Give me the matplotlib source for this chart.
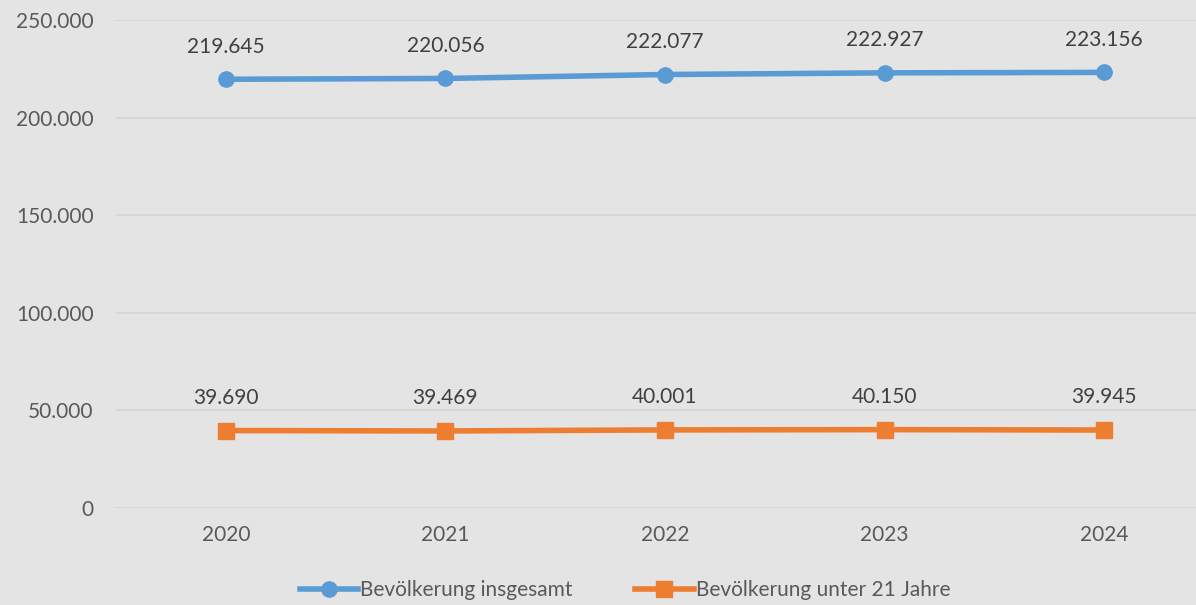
import matplotlib.pyplot as plt
from matplotlib.ticker import FuncFormatter

plt.rcParams['font.family'] = ['Lato', 'DejaVu Sans']

# Data
years = ["2020", "2021", "2022", "2023", "2024"]
total = [219645, 220056, 222077, 222927, 223156]
under21 = [39690, 39469, 40001, 40150, 39945]

bg = "#e4e4e4"
blue = "#5b9bd5"
orange = "#ed7d31"
fs = 15

fig = plt.figure(figsize=(11.96, 6.05), dpi=100, facecolor=bg)
ax = fig.add_axes([116 / 1196, 1 - 508 / 605, 1098 / 1196, 488 / 605])
ax.set_facecolor(bg)

x = list(range(len(years)))
ax.plot(x, total, color=blue, lw=4, marker="o", ms=11, label="Bevölkerung insgesamt", zorder=3)
ax.plot(x, under21, color=orange, lw=4, marker="s", ms=11, label="Bevölkerung unter 21 Jahre", zorder=3)

def fmt(v):
    return f"{v:,.0f}".replace(",", ".")

for series in (total, under21):
    for xi, v in zip(x, series):
        ax.annotate(fmt(v), (xi, v), xytext=(0, 23.5), textcoords="offset points",
                    ha="center", va="center", fontsize=fs, color="#404040")

ax.set_xlim(-0.5, 4.5)
ax.set_ylim(0, 250000)
ax.set_yticks(range(0, 250001, 50000))
ax.yaxis.set_major_formatter(FuncFormatter(lambda v, p: fmt(v)))
ax.set_xticks(x)
ax.set_xticklabels(years)
ax.tick_params(axis="both", length=0, labelsize=fs, labelcolor="#595959")
ax.tick_params(axis="y", pad=16)
ax.tick_params(axis="x", pad=12)
ax.grid(axis="y", color="#d4d4d4", lw=1.2)
ax.set_axisbelow(True)
for s in ax.spines.values():
    s.set_visible(False)

fig.legend(loc="center", bbox_to_anchor=(625 / 1196, 1 - 590 / 605), ncol=2,
           frameon=False, fontsize=fs, labelcolor="#595959", handlelength=2.8,
           handletextpad=0.1, columnspacing=3.0)

fig.savefig("out.png", dpi=100, facecolor=bg)
